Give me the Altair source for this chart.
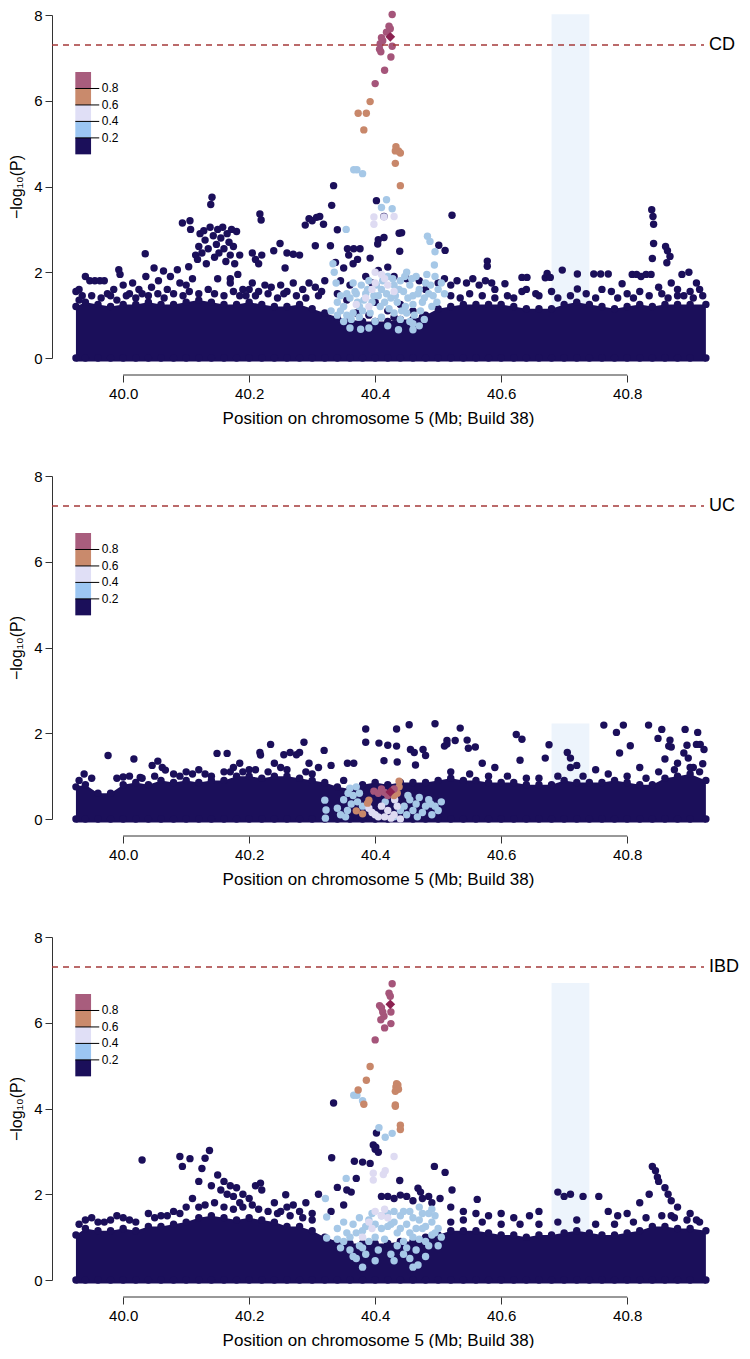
import altair as alt
import pandas as pd

# ---------------- data ----------------
env_x = [39.925, 39.94, 39.96, 39.98, 40.00, 40.02, 40.04, 40.06, 40.08, 40.10,
         40.12, 40.14, 40.16, 40.18, 40.20, 40.22, 40.24, 40.26, 40.28, 40.30,
         40.32, 40.34, 40.36, 40.38, 40.40, 40.42, 40.44, 40.46, 40.48, 40.50,
         40.52, 40.54, 40.56, 40.58, 40.60, 40.62, 40.64, 40.66, 40.68, 40.70,
         40.72, 40.74, 40.76, 40.78, 40.80, 40.82, 40.84, 40.86, 40.88, 40.90, 40.925]

cd_env = [1.2, 1.3, 1.25, 1.2, 1.25, 1.25, 1.3, 1.25, 1.25, 1.3,
          1.35, 1.3, 1.25, 1.25, 1.3, 1.25, 1.2, 1.2, 1.25, 1.15,
          1.05, 0.95, 0.9, 0.85, 0.85, 0.85, 0.9, 0.9, 1.0, 1.15,
          1.2, 1.25, 1.25, 1.25, 1.25, 1.2, 1.15, 1.15, 1.15, 1.25,
          1.3, 1.25, 1.2, 1.15, 1.2, 1.25, 1.2, 1.25, 1.25, 1.25, 1.25]
uc_env = [0.75, 0.8, 0.6, 0.6, 0.8, 0.85, 0.8, 0.9, 0.85, 0.9,
          0.85, 0.9, 0.9, 1.0, 1.0, 0.95, 1.0, 1.0, 0.95, 0.9,
          0.85, 0.75, 0.7, 0.8, 0.85, 0.8, 0.85, 0.85, 0.85, 0.9,
          0.95, 0.9, 0.9, 0.85, 0.85, 0.85, 0.8, 0.8, 0.8, 0.9,
          0.85, 0.85, 0.85, 0.9, 0.85, 0.8, 0.8, 0.95, 1.0, 1.05, 0.9]
ibd_env = [1.05, 1.2, 1.15, 1.15, 1.2, 1.15, 1.25, 1.25, 1.3, 1.35,
           1.45, 1.5, 1.45, 1.4, 1.45, 1.4, 1.35, 1.25, 1.25, 1.15,
           1.0, 0.9, 0.85, 0.85, 0.85, 0.85, 0.9, 0.9, 1.0, 1.05,
           1.15, 1.15, 1.15, 1.1, 1.05, 1.05, 1.0, 1.05, 1.05, 1.1,
           1.15, 1.1, 1.05, 1.05, 1.1, 1.15, 1.25, 1.25, 1.2, 1.2, 1.15]

cd_dark = [
    (39.925, 1.55), (39.93, 1.6), (39.935, 1.45), (39.94, 1.9), (39.947, 1.8), (39.955, 1.8),
    (39.963, 1.8), (39.97, 1.8), (39.975, 1.5), (39.985, 1.6), (39.993, 2.06), (39.995, 1.95),
    (40.0, 1.7), (40.01, 1.5), (40.015, 1.75), (40.025, 1.6), (40.036, 1.9), (40.035, 2.43),
    (40.045, 1.65), (40.049, 2.1), (40.056, 1.8), (40.064, 2.03), (40.07, 1.6), (40.075, 1.9),
    (40.086, 2.06), (40.09, 1.75), (40.094, 3.15), (40.1, 1.7), (40.104, 2.13), (40.106, 3.2),
    (40.107, 3.0), (40.11, 1.85), (40.115, 2.4), (40.118, 2.3), (40.12, 2.6), (40.122, 2.9),
    (40.125, 2.45), (40.128, 2.97), (40.13, 2.75), (40.132, 2.2), (40.135, 2.55), (40.138, 3.05),
    (40.139, 3.58), (40.141, 3.75), (40.143, 2.85), (40.145, 2.35), (40.148, 2.65), (40.15, 3.0),
    (40.152, 2.45), (40.155, 2.8), (40.158, 3.05), (40.16, 2.55), (40.163, 2.25), (40.165, 2.9),
    (40.168, 2.7), (40.17, 2.4), (40.172, 3.0), (40.175, 2.6), (40.177, 2.2), (40.18, 2.95),
    (40.182, 1.95), (40.185, 2.4), (40.17, 1.85), (40.17, 1.75), (40.15, 1.85), (40.19, 1.6),
    (40.195, 1.45), (40.2, 1.6), (40.205, 1.75), (40.215, 1.55), (40.225, 1.7), (40.235, 1.65),
    (40.25, 1.7), (40.26, 1.55), (40.27, 1.75), (40.285, 1.6), (40.295, 1.75), (40.305, 1.65),
    (40.315, 1.55), (40.32, 1.8), (40.205, 2.45), (40.21, 2.3), (40.215, 2.2), (40.22, 2.4),
    (40.217, 3.36), (40.219, 3.22), (40.239, 2.5), (40.249, 2.67), (40.257, 2.1), (40.26, 2.45),
    (40.27, 2.42), (40.28, 2.4), (40.289, 3.1), (40.295, 3.25), (40.3, 3.2), (40.307, 3.28),
    (40.312, 3.3), (40.318, 3.12), (40.305, 2.62), (40.329, 2.62), (40.331, 3.56), (40.334, 4.02),
    (40.337, 2.23), (40.34, 2.99), (40.356, 2.55), (40.366, 2.55), (40.376, 2.55), (40.35, 2.1),
    (40.358, 2.4), (40.365, 2.2), (40.372, 2.3), (40.392, 2.33), (40.402, 3.67), (40.414, 3.3),
    (40.414, 2.81), (40.405, 2.76), (40.404, 2.66), (40.405, 2.04), (40.42, 2.12), (40.438, 2.91),
    (40.442, 2.92), (40.439, 2.49), (40.43, 1.9), (40.45, 1.85), (40.385, 1.9), (40.395, 1.75),
    (40.36, 1.7), (40.345, 1.8), (40.47, 1.8), (40.48, 1.6), (40.501, 2.63), (40.511, 2.51),
    (40.522, 3.33), (40.578, 2.26), (40.578, 2.14), (40.34, 1.5), (40.355, 1.35), (40.37, 1.05),
    (40.39, 1.0), (40.4, 1.3), (40.42, 1.1), (40.44, 1.25), (40.46, 1.1), (40.475, 0.95),
    (40.43, 0.95), (40.5, 1.75), (40.51, 1.85), (40.52, 1.7), (40.53, 1.8), (40.545, 1.75),
    (40.555, 1.85), (40.565, 1.7), (40.575, 1.8), (40.585, 1.75), (40.59, 1.6), (40.606, 1.73),
    (40.633, 1.88), (40.641, 1.88), (40.633, 1.55), (40.64, 1.6), (40.655, 1.5), (40.67, 1.87),
    (40.673, 1.97), (40.678, 1.88), (40.68, 1.55), (40.697, 2.05), (40.721, 1.96), (40.721, 1.61),
    (40.747, 1.96), (40.758, 1.96), (40.77, 1.96), (40.76, 1.6), (40.775, 1.55), (40.792, 1.73),
    (40.808, 1.95), (40.815, 1.95), (40.822, 1.9), (40.83, 1.95), (40.838, 1.95), (40.8, 1.5),
    (40.82, 1.55), (40.839, 3.46), (40.841, 3.3), (40.842, 3.12), (40.842, 2.67), (40.861, 2.6),
    (40.864, 2.5), (40.868, 2.37), (40.84, 2.32), (40.863, 2.22), (40.887, 1.95), (40.898, 2.0),
    (40.91, 1.75), (40.915, 1.6), (40.9, 1.55), (40.88, 1.6), (40.87, 1.75), (40.85, 1.65),
    (40.89, 1.45), (40.855, 1.5), (40.905, 1.4),
    (39.93, 1.35), (39.95, 1.45), (39.965, 1.4), (39.98, 1.45), (39.99, 1.35), (40.005, 1.45),
    (40.02, 1.4), (40.03, 1.5), (40.04, 1.45), (40.055, 1.5), (40.065, 1.4), (40.08, 1.5),
    (40.095, 1.45), (40.105, 1.55), (40.12, 1.5), (40.135, 1.6), (40.145, 1.5), (40.16, 1.45),
    (40.175, 1.55), (40.185, 1.45), (40.21, 1.45), (40.23, 1.5), (40.245, 1.4), (40.255, 1.5),
    (40.275, 1.45), (40.29, 1.4), (40.31, 1.45), (40.52, 1.45), (40.535, 1.4), (40.55, 1.5),
    (40.57, 1.45), (40.59, 1.4), (40.61, 1.45), (40.62, 1.4), (40.66, 1.45), (40.69, 1.4),
    (40.71, 1.45), (40.735, 1.5), (40.75, 1.4), (40.785, 1.4), (40.81, 1.4), (40.835, 1.45),
    (40.865, 1.4), (40.88, 1.45), (40.92, 1.45)]
cd_lblue = [
    (40.366, 4.39), (40.371, 4.39), (40.38, 4.3), (40.418, 3.69), (40.41, 3.51), (40.427, 3.48),
    (40.354, 3.0), (40.483, 2.84), (40.487, 2.72), (40.495, 2.48), (40.494, 2.17),
    (40.333, 2.2), (40.335, 2.0), (40.338, 1.75), (40.34, 1.3), (40.345, 1.1), (40.35, 1.2),
    (40.355, 1.0), (40.36, 1.4), (40.362, 0.9), (40.368, 1.55), (40.372, 1.3), (40.378, 1.7),
    (40.38, 1.1), (40.385, 1.5), (40.39, 1.8), (40.395, 1.3), (40.405, 1.45), (40.41, 1.6),
    (40.415, 1.3), (40.42, 1.9), (40.425, 1.4), (40.43, 1.7), (40.435, 1.3), (40.44, 1.8),
    (40.445, 1.55), (40.448, 1.2), (40.45, 2.0), (40.455, 1.7), (40.46, 1.45), (40.462, 1.0),
    (40.465, 1.9), (40.47, 1.6), (40.475, 1.3), (40.478, 0.9), (40.48, 1.75), (40.485, 1.5),
    (40.49, 1.2), (40.495, 1.9), (40.5, 1.6), (40.44, 0.9), (40.455, 0.85), (40.47, 0.75),
    (40.41, 0.95), (40.35, 0.85), (40.36, 0.7), (40.377, 0.67), (40.437, 0.66), (40.46, 0.66),
    (40.33, 1.1), (40.365, 1.75), (40.37, 1.5), (40.375, 1.2), (40.382, 1.35), (40.388, 1.6),
    (40.392, 1.05), (40.398, 1.45), (40.402, 1.7), (40.408, 1.2), (40.412, 1.8), (40.418, 1.5),
    (40.422, 1.15), (40.428, 1.85), (40.432, 1.45), (40.438, 1.6), (40.442, 1.1), (40.447, 1.9),
    (40.452, 1.4), (40.458, 1.85), (40.46, 1.25), (40.468, 1.5), (40.472, 1.1), (40.478, 1.4),
    (40.482, 1.95), (40.488, 1.7), (40.492, 1.45), (40.498, 1.3), (40.46, 0.8), (40.45, 1.05),
    (40.43, 1.05), (40.42, 0.75), (40.4, 0.85), (40.39, 0.7), (40.375, 0.95), (40.365, 1.05),
    (40.355, 1.5), (40.345, 1.45), (40.34, 1.0), (40.505, 1.75), (40.51, 1.5)]
cd_lav = [
    (40.398, 3.29), (40.414, 3.29), (40.43, 3.3), (40.398, 3.12), (40.4, 2.0), (40.41, 1.95),
    (40.415, 1.85), (40.4, 1.75), (40.395, 1.6), (40.385, 1.4), (40.39, 1.2), (40.42, 1.7),
    (40.43, 1.55), (40.37, 1.25)]
cd_orange = [
    (40.392, 5.98), (40.373, 5.71), (40.386, 5.71), (40.382, 5.32), (40.433, 4.93), (40.432, 4.83),
    (40.437, 4.83), (40.44, 4.78), (40.432, 4.54), (40.44, 4.02)]
cd_red = [
    (40.427, 8.01), (40.422, 7.74), (40.424, 7.68), (40.418, 7.6), (40.41, 7.47), (40.412, 7.4),
    (40.408, 7.33), (40.407, 7.2), (40.409, 7.14), (40.427, 7.27), (40.425, 7.02), (40.415, 6.71),
    (40.4, 6.4)]
cd_lead = [(40.424, 7.49)]

uc_dark = [
    (39.938, 1.05), (39.976, 1.48), (39.99, 0.95), (40.0, 0.98), (40.01, 1.0), (40.017, 1.4),
    (40.027, 0.97), (40.046, 1.25), (40.055, 1.35), (40.062, 1.2), (40.067, 1.14), (40.08, 1.05),
    (40.1, 1.1), (40.12, 1.15), (40.13, 1.05), (40.149, 1.53), (40.165, 1.53), (40.16, 1.1),
    (40.175, 1.2), (40.185, 1.3), (40.2, 1.15), (40.217, 1.55), (40.218, 1.49), (40.234, 1.74),
    (40.24, 1.3), (40.25, 1.2), (40.255, 1.5), (40.265, 1.55), (40.275, 1.5), (40.28, 1.55),
    (40.287, 1.79), (40.295, 1.3), (40.31, 1.2), (40.319, 1.6), (40.33, 1.25), (40.356, 1.3),
    (40.366, 1.3), (40.385, 2.1), (40.385, 1.79), (40.406, 1.77), (40.42, 1.72), (40.434, 2.1),
    (40.434, 1.7), (40.414, 1.36), (40.435, 1.33), (40.454, 2.2), (40.456, 1.62), (40.462, 1.55),
    (40.464, 1.26), (40.476, 1.62), (40.48, 1.48), (40.495, 2.22), (40.51, 1.7), (40.514, 1.75),
    (40.514, 1.83), (40.527, 1.83), (40.535, 2.12), (40.546, 1.84), (40.548, 1.65), (40.559, 1.68),
    (40.57, 1.3), (40.59, 1.2), (40.624, 1.97), (40.633, 1.86), (40.63, 1.37), (40.67, 1.42),
    (40.676, 1.73), (40.705, 1.55), (40.71, 1.42), (40.71, 1.2), (40.72, 1.25), (40.75, 1.15),
    (40.763, 2.19), (40.783, 2.02), (40.788, 1.54), (40.794, 2.19), (40.805, 1.71), (40.82, 1.2),
    (40.834, 2.19), (40.849, 1.88), (40.855, 2.09), (40.86, 1.4), (40.866, 1.7), (40.868, 1.84),
    (40.87, 1.68), (40.89, 1.54), (40.892, 2.09), (40.895, 1.72), (40.897, 1.42), (40.91, 1.74),
    (40.912, 2.02), (40.916, 1.74), (40.922, 1.62), (40.92, 1.29), (40.905, 1.2), (40.88, 1.3),
    (39.93, 0.9), (39.95, 0.95), (40.03, 0.95), (40.05, 1.0), (40.09, 1.0), (40.11, 1.05),
    (40.14, 1.0), (40.17, 1.1), (40.19, 1.1), (40.21, 1.15), (40.23, 1.1), (40.26, 1.15),
    (40.29, 1.1), (40.3, 1.05), (40.35, 0.9), (40.52, 1.1), (40.55, 1.05), (40.58, 1.0),
    (40.61, 1.0), (40.64, 0.95), (40.66, 0.95), (40.69, 1.0), (40.73, 1.0), (40.77, 1.05),
    (40.8, 1.0), (40.83, 0.95), (40.85, 1.1), (40.875, 1.15), (40.9, 1.2), (40.915, 1.1)]
uc_lblue = [
    (40.32, 0.44), (40.322, 0.21), (40.321, 0.02), (40.34, 0.25), (40.35, 0.45), (40.353, 0.05),
    (40.356, 0.2), (40.357, 0.6), (40.36, 0.72), (40.365, 0.55), (40.37, 0.75), (40.375, 0.6),
    (40.416, 0.4), (40.446, 0.3), (40.45, 0.1), (40.455, 0.45), (40.46, 0.2), (40.465, 0.35),
    (40.47, 0.5), (40.475, 0.15), (40.48, 0.3), (40.485, 0.45), (40.49, 0.1), (40.495, 0.3),
    (40.5, 0.2), (40.44, 0.2), (40.43, 0.05), (40.345, 0.1), (40.362, 0.35), (40.372, 0.4),
    (40.38, 0.3), (40.467, 0.05), (40.488, 0.35), (40.505, 0.4), (40.452, 0.55)]
uc_lav = [
    (40.39, 0.25), (40.4, 0.1), (40.41, 0.3), (40.415, 0.05), (40.42, 0.2), (40.43, 0.1),
    (40.44, 0.0), (40.435, 0.3), (40.431, 0.45), (40.405, 0.05), (40.395, 0.15), (40.425, 0.02)]
uc_orange = [
    (40.438, 0.88), (40.438, 0.75), (40.435, 0.6), (40.43, 0.55), (40.39, 0.44), (40.388, 0.37),
    (40.37, 0.19), (40.38, 0.12)]
uc_red = [(40.398, 0.65), (40.405, 0.6), (40.41, 0.7), (40.415, 0.62), (40.42, 0.55), (40.43, 0.7)]
uc_lead = [(40.424, 0.63)]

ibd_dark = [
    (39.93, 1.3), (39.95, 1.45), (39.97, 1.35), (39.99, 1.5), (40.01, 1.4), (40.03, 2.8),
    (40.04, 1.55), (40.06, 1.5), (40.08, 1.6), (40.09, 2.88), (40.094, 2.65), (40.1, 1.7),
    (40.106, 2.83), (40.11, 1.9), (40.12, 2.3), (40.125, 2.6), (40.13, 2.84), (40.137, 3.02),
    (40.14, 2.2), (40.15, 2.45), (40.155, 2.1), (40.16, 2.3), (40.165, 2.0), (40.17, 2.2),
    (40.175, 1.95), (40.18, 2.15), (40.185, 1.8), (40.19, 2.0), (40.2, 1.9), (40.21, 2.2),
    (40.218, 2.26), (40.22, 2.1), (40.24, 1.8), (40.25, 1.6), (40.258, 1.99), (40.26, 1.7),
    (40.27, 1.75), (40.28, 1.6), (40.29, 1.8), (40.31, 2.0), (40.3, 1.55), (40.334, 4.13),
    (40.402, 3.43), (40.397, 3.15), (40.4, 3.05), (40.405, 2.98), (40.401, 3.1), (40.331, 2.85),
    (40.367, 2.77), (40.38, 2.75), (40.392, 2.72), (40.37, 2.37), (40.439, 2.32), (40.494, 2.65),
    (40.511, 2.51), (40.34, 2.16), (40.355, 2.1), (40.362, 2.05), (40.522, 2.1), (40.468, 2.14),
    (40.472, 2.05), (40.562, 1.88), (40.503, 1.9), (40.41, 1.95), (40.42, 1.95), (40.43, 1.9),
    (40.44, 1.98), (40.45, 1.95), (40.46, 1.85), (40.475, 1.9), (40.485, 1.95), (40.49, 1.8),
    (40.52, 1.7), (40.54, 1.6), (40.56, 1.55), (40.58, 1.5), (40.35, 1.75), (40.33, 1.6),
    (40.69, 2.05), (40.7, 1.95), (40.71, 2.0), (40.73, 1.95), (40.66, 1.6), (40.645, 1.5),
    (40.62, 1.45), (40.6, 1.55), (40.755, 1.95), (40.77, 1.6), (40.785, 1.5), (40.8, 1.55),
    (40.82, 1.8), (40.835, 2.0), (40.84, 2.65), (40.845, 2.55), (40.848, 2.4), (40.85, 2.3),
    (40.86, 2.15), (40.865, 2.0), (40.87, 1.85), (40.88, 1.7), (40.9, 1.55), (40.91, 1.4),
    (40.87, 1.5),
    (39.94, 1.4), (39.96, 1.35), (39.98, 1.4), (40.0, 1.45), (40.02, 1.35), (40.05, 1.45),
    (40.07, 1.5), (40.09, 1.55), (40.12, 1.7), (40.13, 1.75), (40.145, 1.8), (40.16, 1.7),
    (40.175, 1.65), (40.19, 1.7), (40.205, 1.75), (40.215, 1.65), (40.23, 1.6), (40.245, 1.55),
    (40.265, 1.5), (40.285, 1.45), (40.3, 1.4), (40.52, 1.35), (40.54, 1.4), (40.57, 1.35),
    (40.6, 1.3), (40.63, 1.3), (40.66, 1.3), (40.69, 1.35), (40.72, 1.4), (40.75, 1.3),
    (40.78, 1.3), (40.81, 1.35), (40.83, 1.45), (40.855, 1.5), (40.875, 1.45), (40.895, 1.4),
    (40.915, 1.35)]
ibd_lblue = [
    (40.366, 4.31), (40.371, 4.31), (40.38, 4.18), (40.406, 3.55), (40.427, 3.42), (40.416, 3.33),
    (40.354, 2.37), (40.321, 1.9), (40.323, 1.47), (40.323, 0.98), (40.34, 0.95), (40.34, 1.2),
    (40.35, 0.9), (40.355, 1.1), (40.36, 0.7), (40.365, 1.3), (40.37, 0.5), (40.375, 0.8),
    (40.38, 1.15), (40.385, 0.6), (40.39, 1.4), (40.4, 1.0), (40.41, 1.2), (40.42, 1.55),
    (40.425, 1.3), (40.43, 1.6), (40.435, 1.1), (40.44, 1.5), (40.445, 0.9), (40.45, 1.3),
    (40.455, 1.6), (40.46, 1.0), (40.465, 0.7), (40.47, 1.4), (40.475, 1.2), (40.48, 0.9),
    (40.485, 1.55), (40.49, 1.35), (40.495, 1.1), (40.5, 0.8), (40.48, 0.55), (40.455, 0.5),
    (40.445, 0.6), (40.47, 1.7), (40.49, 1.65), (40.38, 0.3), (40.468, 0.35),
    (40.36, 1.0), (40.365, 0.55), (40.37, 1.1), (40.375, 1.45), (40.38, 0.75), (40.385, 1.25),
    (40.39, 0.9), (40.395, 1.55), (40.4, 1.3), (40.405, 0.7), (40.41, 1.5), (40.415, 0.95),
    (40.42, 1.25), (40.425, 0.6), (40.43, 1.35), (40.435, 0.8), (40.44, 1.2), (40.445, 1.6),
    (40.45, 0.75), (40.455, 1.1), (40.46, 1.45), (40.465, 1.2), (40.47, 0.95), (40.475, 1.55),
    (40.48, 1.25), (40.485, 0.8), (40.49, 1.05), (40.495, 1.5), (40.5, 1.2), (40.505, 1.0),
    (40.35, 1.35), (40.345, 0.75), (40.43, 0.45), (40.46, 0.3), (40.4, 0.45)]
ibd_lav = [
    (40.43, 2.88), (40.397, 2.49), (40.397, 2.33), (40.413, 2.46), (40.416, 2.55), (40.4, 1.6),
    (40.41, 1.5), (40.39, 1.35), (40.395, 1.2), (40.38, 1.0), (40.415, 1.65), (40.42, 1.45)]
ibd_orange = [
    (40.392, 4.98), (40.386, 4.66), (40.373, 4.43), (40.382, 4.1), (40.434, 4.58), (40.436, 4.55),
    (40.433, 4.5), (40.432, 4.4), (40.437, 4.45), (40.432, 4.08), (40.432, 4.05), (40.44, 3.61),
    (40.44, 3.51)]
ibd_red = [
    (40.427, 6.91), (40.422, 6.69), (40.424, 6.62), (40.407, 6.4), (40.41, 6.35), (40.412, 6.25),
    (40.414, 6.15), (40.409, 6.07), (40.425, 6.25), (40.425, 5.98), (40.415, 5.88), (40.4, 5.6)]
ibd_lead = [(40.424, 6.43)]

# highlighted region (Mb) and its top per panel
region = (40.68, 40.74)
region_top = {"CD": 8.02, "UC": 2.23, "IBD": 6.93}
gw_threshold = 7.3
x_ticks = [40.0, 40.2, 40.4, 40.6, 40.8]
y_ticks = [0, 2, 4, 6, 8]
ld_labels = ["0.8", "0.6", "0.4", "0.2"]

# ---------------- style ----------------
NAVY = "#1b0f5a"
LBLUE = "#a6c8e7"
LAV = "#dedbf2"
ORANGE = "#c8876a"
RED = "#a5557a"
LEAD = "#8c2251"
HILITE = "#edf4fc"
DASH = "#a53a3a"
LEG_COLORS = ["#a85d7d", "#c98a6c", "#e0dff6", "#9cc6f2", NAVY]  # top to bottom
FONT = "Liberation Sans"

XMIN, XMAX = 39.887, 40.922
W, H = 652, 343
PT = 55

xs = alt.Scale(domain=[XMIN, XMAX], nice=False, zero=False)
ys = alt.Scale(domain=[0, 8], nice=False, zero=False)
xaxis = alt.Axis(values=x_ticks, format=".1f", domain=False, offset=17, tickSize=7,
                 tickColor="#333", labelFontSize=15, labelPadding=4, labelColor="black",
                 title="Position on chromosome 5 (Mb; Build 38)", titleFontSize=17,
                 titleFontWeight="normal", titlePadding=9, titleColor="black", grid=False,
                 labelFont=FONT, titleFont=FONT)
yaxis = alt.Axis(values=y_ticks, domainColor="#333", tickColor="#333", tickSize=7,
                 labelFontSize=15, labelPadding=3, labelColor="black", title="−log₁₀(P)",
                 titleFontSize=16, titleFontWeight="normal", titlePadding=9, titleColor="black",
                 grid=False, labelFont=FONT, titleFont=FONT)

# legend geometry (in y data units)
LEG_TOP, LEG_STEP = 6.67, 0.384
LEG_X0, LEG_X1, LEG_XL, LEG_XT = 39.924, 39.949, 39.962, 39.966


def X(f="x"):
    return alt.X(f"{f}:Q", scale=xs, axis=xaxis)


def Y(f="y"):
    return alt.Y(f"{f}:Q", scale=ys, axis=yaxis)


def pts(data, color, shape="circle", size=PT):
    df = pd.DataFrame(data, columns=["x", "y"])
    if shape == "circle":
        m = alt.Chart(df).mark_circle(size=size, color=color, opacity=1)
    else:
        m = alt.Chart(df).mark_point(shape=shape, filled=True, size=size, color=color, opacity=1)
    return m.encode(x=X(), y=Y())


def panel(name, env, dark, lblue, lav, orange, red, lead):
    rect_df = pd.DataFrame({"x": [region[0]], "x2": [region[1]], "y": [0], "y2": [region_top[name]]})
    rect = alt.Chart(rect_df).mark_rect(color=HILITE).encode(x=X(), x2="x2:Q", y=Y(), y2="y2:Q")

    env_df = pd.DataFrame({"x": env_x, "y": env})
    area = alt.Chart(env_df).mark_area(color=NAVY, opacity=1).encode(
        x=X(), y=Y(), y2=alt.datum(-0.08))
    env_top = alt.Chart(env_df).mark_circle(size=PT, color=NAVY, opacity=1).encode(x=X(), y=Y())
    env_bot = alt.Chart(env_df).mark_circle(size=PT, color=NAVY, opacity=1).encode(
        x=X(), y=alt.datum(0))

    dash_df = pd.DataFrame({"x": [XMIN], "x2": [XMAX], "y": [gw_threshold], "lab": [name]})
    dash = alt.Chart(dash_df).mark_rule(color=DASH, strokeDash=[6, 5], strokeWidth=1.6).encode(
        x=X(), x2="x2:Q", y=Y())
    lab = alt.Chart(dash_df).mark_text(align="left", baseline="middle", fontSize=18, font=FONT,
                                       color="black").encode(
        x=alt.value(W + 5), y=Y(), text="lab:N")

    tops = [LEG_TOP - i * LEG_STEP for i in range(5)]
    leg_df = pd.DataFrame({"x": [LEG_X0] * 5, "x2": [LEG_X1] * 5, "y": tops,
                           "y2": [t - LEG_STEP for t in tops], "c": LEG_COLORS})
    leg = alt.Chart(leg_df).mark_rect().encode(
        x=X(), x2="x2:Q", y=Y(), y2="y2:Q", color=alt.Color("c:N", scale=None))
    line_df = pd.DataFrame({"x": [LEG_X0] * 4, "x2": [LEG_XL] * 4, "xt": [LEG_XT] * 4,
                            "y": tops[1:], "t": ld_labels})
    leg_lines = alt.Chart(line_df).mark_rule(color="black", strokeWidth=1).encode(
        x=X(), x2="x2:Q", y=Y())
    leg_text = alt.Chart(line_df).mark_text(align="left", baseline="middle", fontSize=12,
                                            font=FONT, color="black").encode(
        x=X("xt"), y=Y(), text="t:N")

    axline_df = pd.DataFrame({"x": [x_ticks[0]], "x2": [x_ticks[-1]]})
    axline = alt.Chart(axline_df).mark_rule(color="#333", strokeWidth=1).encode(
        x=X(), x2="x2:Q", y=alt.value(H + 17))

    layers = [rect, area, env_top, env_bot, pts(dark, NAVY), pts(lblue, LBLUE), pts(lav, LAV),
              pts(orange, ORANGE), pts(red, RED), pts(lead, LEAD, shape="diamond", size=95),
              dash, lab, leg, leg_lines, leg_text, axline]
    return alt.layer(*layers).properties(width=W, height=H)


p1 = panel("CD", cd_env, cd_dark, cd_lblue, cd_lav, cd_orange, cd_red, cd_lead)
p2 = panel("UC", uc_env, uc_dark, uc_lblue, uc_lav, uc_orange, uc_red, uc_lead)
p3 = panel("IBD", ibd_env, ibd_dark, ibd_lblue, ibd_lav, ibd_orange, ibd_red, ibd_lead)

chart = alt.vconcat(p1, p2, p3, spacing=118, bounds="flush").properties(
    padding={"left": 0, "top": 0, "right": 0, "bottom": 0}
).configure_view(stroke=None)

chart.save("out.html", embed_options={"renderer": "svg", "actions": False})
